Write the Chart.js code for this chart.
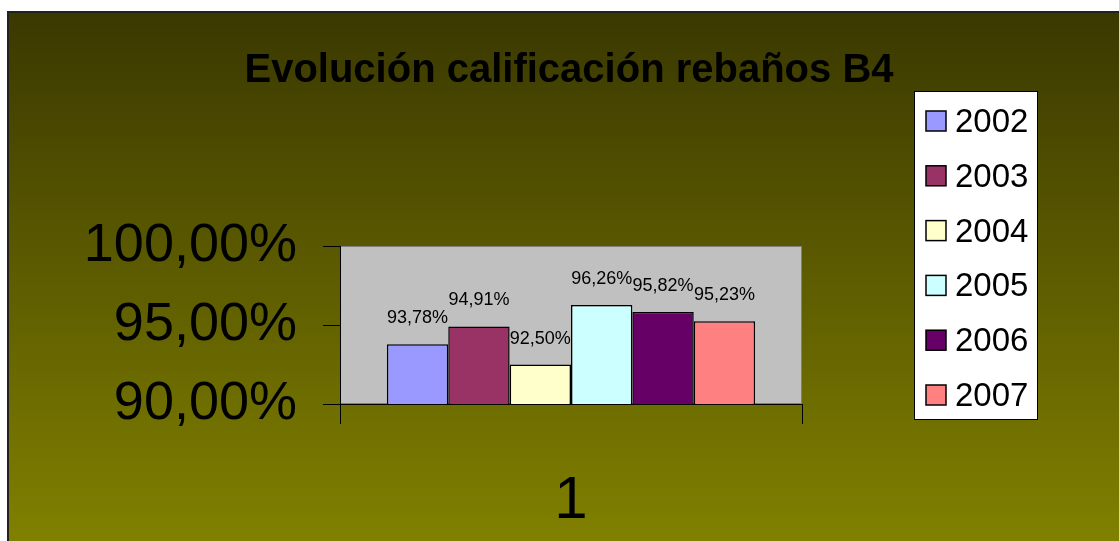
<!DOCTYPE html>
<html>
<head>
<meta charset="utf-8">
<title>Evolución calificación rebaños B4</title>
<script src="https://cdn.jsdelivr.net/npm/chart.js@4.4.1/dist/chart.umd.min.js"></script>
<style>
  html, body { margin: 0; padding: 0; background: #fff; overflow: hidden; }
</style>
</head>
<body>
<canvas id="chart" width="1119" height="541"></canvas>
<script>
// ======= Datos =======
const categories = ["1"];
const seriesNames = ["2002", "2003", "2004", "2005", "2006", "2007"];
const seriesValues = [[93.78], [94.91], [92.50], [96.26], [95.82], [95.23]];
const seriesColors = ["#9999ff", "#993366", "#ffffcc", "#ccffff", "#660066", "#ff8080"];
const yTicks = [90, 95, 100];

const FONT = '"Liberation Sans", Arial, sans-serif';
const pct = v => v.toFixed(2).replace(".", ",") + "%";

// ======= Fondo, marco y área de trazado =======
const frame = {
  id: "frame",
  beforeDraw(chart) {
    const {ctx, width, height, chartArea: a} = chart;
    ctx.save();
    ctx.fillStyle = "#fff";
    ctx.fillRect(0, 0, width, height);
    const g = ctx.createLinearGradient(0, 11, 0, height);
    g.addColorStop(0, "#3a3800");
    g.addColorStop(1, "#808000");
    ctx.fillStyle = g;
    ctx.fillRect(7, 11, width - 7, height - 11);
    ctx.strokeStyle = "#222";
    ctx.lineWidth = 2;
    ctx.beginPath();
    ctx.moveTo(8, height);
    ctx.lineTo(8, 12);
    ctx.lineTo(width, 12);
    ctx.stroke();
    // plot area
    ctx.fillStyle = "#c0c0c0";
    ctx.fillRect(a.left, a.top, a.width, a.height);
    ctx.strokeStyle = "#808080";
    ctx.lineWidth = 1;
    ctx.strokeRect(a.left + 0.5, a.top + 0.5, a.width - 1, a.height - 1);
    ctx.restore();
  },
  afterLayout(chart) {
    // centrar el título sobre todo el gráfico, no solo sobre el área izquierda
    if (chart.titleBlock) {
      chart.titleBlock.left = 19;
      chart.titleBlock.right = chart.width;
    }
  }
};

// ======= Etiquetas de valores =======
const valueLabels = {
  id: "valueLabels",
  afterDatasetsDraw(chart) {
    const {ctx} = chart;
    ctx.save();
    ctx.font = "18px " + FONT;
    ctx.fillStyle = "#000";
    ctx.textAlign = "center";
    ctx.textBaseline = "alphabetic";
    chart.data.datasets.forEach((ds, i) => {
      chart.getDatasetMeta(i).data.forEach((bar, j) => {
        ctx.fillText(pct(ds.data[j]), bar.x, bar.y - 21);
      });
    });
    ctx.restore();
  }
};

// ======= Leyenda =======
const legendBox = {
  id: "legendBox",
  afterDraw(chart) {
    const {ctx} = chart;
    const x = 914, y = 91, w = 123, h = 328;
    ctx.save();
    ctx.fillStyle = "#fff";
    ctx.fillRect(x, y, w, h);
    ctx.strokeStyle = "#000";
    ctx.lineWidth = 1;
    ctx.strokeRect(x + 0.5, y + 0.5, w, h);
    ctx.font = "33px " + FONT;
    ctx.textBaseline = "middle";
    ctx.textAlign = "left";
    chart.data.datasets.forEach((ds, i) => {
      const cy = 121 + i * 54.8;
      ctx.fillStyle = ds.backgroundColor;
      ctx.fillRect(926, cy - 10, 20, 20);
      ctx.strokeStyle = "#000";
      ctx.lineWidth = 1.5;
      ctx.strokeRect(926, cy - 10, 20, 20);
      ctx.fillStyle = "#000";
      ctx.fillText(ds.label, 955, cy + 2);
    });
    ctx.restore();
  }
};

const datasets = seriesNames.map((name, i) => ({
  label: name,
  data: seriesValues[i],
  backgroundColor: seriesColors[i],
  borderColor: "#000",
  borderWidth: 1.5,
  categoryPercentage: 0.797,
  barPercentage: 1.0
}));

new Chart(document.getElementById("chart"), {
  type: "bar",
  data: { labels: categories, datasets },
  plugins: [frame, valueLabels, legendBox],
  options: {
    responsive: false,
    animation: false,
    layout: { padding: { top: 11, right: 317, bottom: 0, left: 0 } },
    plugins: {
      legend: { display: false },
      tooltip: { enabled: false },
      title: {
        display: true,
        text: "Evolución calificación rebaños B4",
        color: "#000",
        font: { family: FONT, size: 40, weight: "bold" },
        padding: { top: 36, bottom: 151 }
      }
    },
    scales: {
      x: {
        grid: { offset: true, drawOnChartArea: false, tickLength: 20, color: "#000" },
        border: { display: true, color: "#000", width: 1 },
        ticks: { color: "#000", font: { family: FONT, size: 60 }, padding: 41 },
        afterFit: s => { s.height = 137; }
      },
      y: {
        min: 90,
        max: 100,
        grid: { drawOnChartArea: false, tickLength: 17, color: "#000" },
        border: { display: true, color: "#000", width: 1 },
        ticks: {
          color: "#000",
          font: { family: FONT, size: 54 },
          padding: 26,
          callback: v => pct(v)
        },
        afterBuildTicks: s => { s.ticks = yTicks.map(v => ({ value: v })); },
        afterFit: s => { s.width = 340; }
      }
    }
  }
});
</script>
</body>
</html>
